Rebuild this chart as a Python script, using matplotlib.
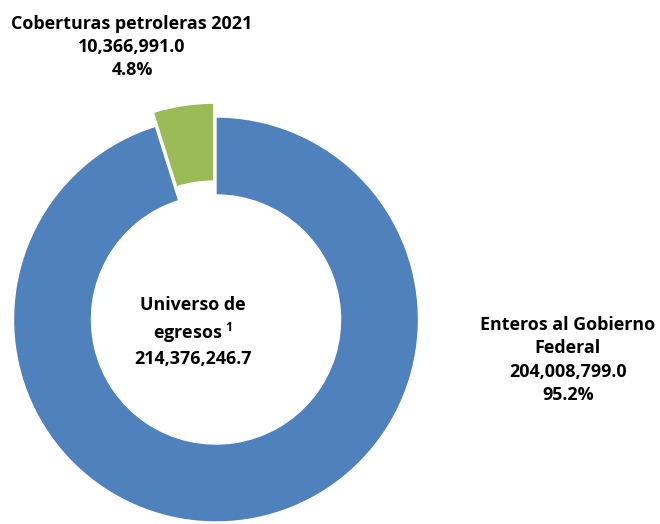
import matplotlib
matplotlib.use("Agg")
import matplotlib.pyplot as plt

categories = ["Enteros al Gobierno\nFederal", "Coberturas petroleras 2021"]
values = [204008799.0, 10366991.0]
percents = [95.2, 4.8]
total_label = "Universo de\negresos $^{\\mathbf{1}}$"
total_value = 214376246.7
colors = ["#4F81BD", "#9BBB59"]

plt.rcParams['font.family'] = ['Open Sans', 'DejaVu Sans']
plt.rcParams['mathtext.fontset'] = 'custom'
plt.rcParams['mathtext.rm'] = 'Open Sans'
plt.rcParams['mathtext.bf'] = 'Open Sans:bold'

fig = plt.figure(figsize=(6.6, 5.24), dpi=100)
ax = fig.add_axes([0, 0, 1, 1])
H = 524
R = 202.5
cx, cy = 216, H - 319.5
ax.pie(values, colors=colors, startangle=90, counterclock=False,
       explode=[0, 14], center=(cx, cy), radius=R, frame=True,
       wedgeprops=dict(width=R * 0.385, edgecolor="white", linewidth=1.0))
ax.set_xlim(0, 660)
ax.set_ylim(0, H)
ax.set_aspect("equal")
ax.axis("off")

fs = 12.9
kw = dict(ha="center", va="center", fontsize=fs, fontweight="bold", color="black", linespacing=1.38)
ax.text(132, H - 47, f"{categories[1]}\n{values[1]:,.1f}\n{percents[1]:.1f}%", **kw)
ax.text(568, H - 360, f"{categories[0]}\n{values[0]:,.1f}\n{percents[0]:.1f}%", **kw)
ax.text(193, H - 332, f"{total_label}\n{total_value:,.1f}", **kw)

fig.savefig("out.png", dpi=100)
